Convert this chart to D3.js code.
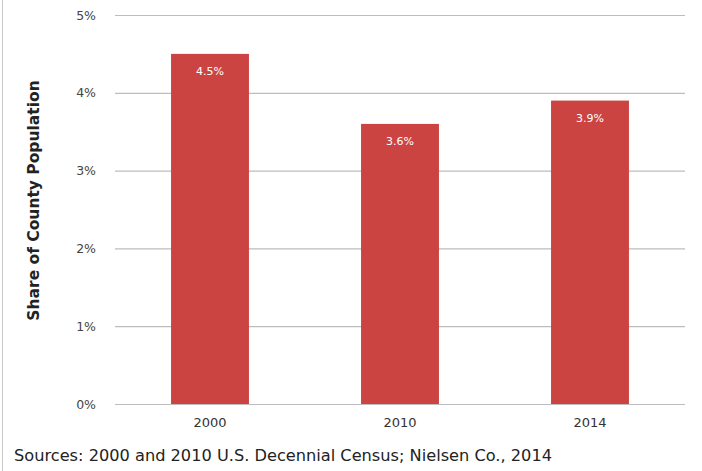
<!DOCTYPE html>
<html>
<head>
<meta charset="utf-8">
<script src="https://cdn.jsdelivr.net/npm/d3@7"></script>
<style>
  body { margin: 0; background: #fff; }
  svg { display: block; font-family: Tahoma, "DejaVu Sans", sans-serif; }
</style>
</head>
<body>
<script>
// chart values
const years = ["2000", "2010", "2014"];
const shares = [4.5, 3.6, 3.9];
const yTicks = [0, 1, 2, 3, 4, 5];

const width = 702, height = 471;
const margin = {top: 15, right: 17, bottom: 67, left: 115};

const svg = d3.select("body").append("svg")
    .attr("width", width)
    .attr("height", height);

// left frame edge
svg.append("line")
    .attr("x1", 2.5).attr("x2", 2.5)
    .attr("y1", 0).attr("y2", height)
    .attr("stroke", "#c8c8c8");

const x = d3.scaleBand()
    .domain(years)
    .range([margin.left, width - margin.right])
    .paddingInner(0.59)
    .paddingOuter(0.295);

const y = d3.scaleLinear()
    .domain([0, 5])
    .range([height - margin.bottom, margin.top]);

// gridlines + y labels
const yAxis = svg.append("g")
    .attr("transform", `translate(${margin.left},0)`)
    .call(d3.axisLeft(y).tickValues(yTicks)
      .tickSize(-(width - margin.left - margin.right))
      .tickPadding(19)
      .tickFormat(d => d + "%"));
yAxis.select(".domain").remove();
yAxis.selectAll(".tick line").attr("stroke", "#bdbdbd").attr("stroke-width", 1.2);
yAxis.selectAll(".tick text")
    .attr("fill", "#444")
    .style("font-size", "12.5px")
    .style("font-family", "Tahoma, 'DejaVu Sans', sans-serif");

// bars
svg.append("g").selectAll("rect")
  .data(shares)
  .join("rect")
    .attr("x", (d, i) => x(years[i]))
    .attr("y", d => y(d))
    .attr("width", x.bandwidth())
    .attr("height", d => y(0) - y(d))
    .attr("fill", "#cb4442");

// value labels inside bars
svg.append("g").selectAll("text")
  .data(shares)
  .join("text")
    .attr("x", (d, i) => x(years[i]) + x.bandwidth() / 2)
    .attr("y", d => y(d) + 21)
    .attr("text-anchor", "middle")
    .attr("fill", "#fff")
    .style("font-size", "11px")
    .text(d => d.toFixed(1) + "%");

// x labels
const xAxis = svg.append("g")
    .attr("transform", `translate(0,${y(0)})`)
    .call(d3.axisBottom(x).tickSize(0).tickPadding(14));
xAxis.select(".domain").remove();
xAxis.selectAll(".tick text")
    .attr("fill", "#333")
    .style("font-size", "13px")
    .style("font-family", "Tahoma, 'DejaVu Sans', sans-serif");

// y axis title
svg.append("text")
    .attr("transform", `translate(39,${(y(0) + y(5)) / 2 - 9}) rotate(-90)`)
    .attr("text-anchor", "middle")
    .attr("fill", "#222")
    .style("font-size", "15.5px")
    .style("font-weight", "bold")
    .text("Share of County Population");

// source note
svg.append("text")
    .attr("x", 14)
    .attr("y", 461)
    .attr("fill", "#222")
    .style("font-size", "16.2px")
    .text("Sources: 2000 and 2010 U.S. Decennial Census; Nielsen Co., 2014");
</script>
</body>
</html>
